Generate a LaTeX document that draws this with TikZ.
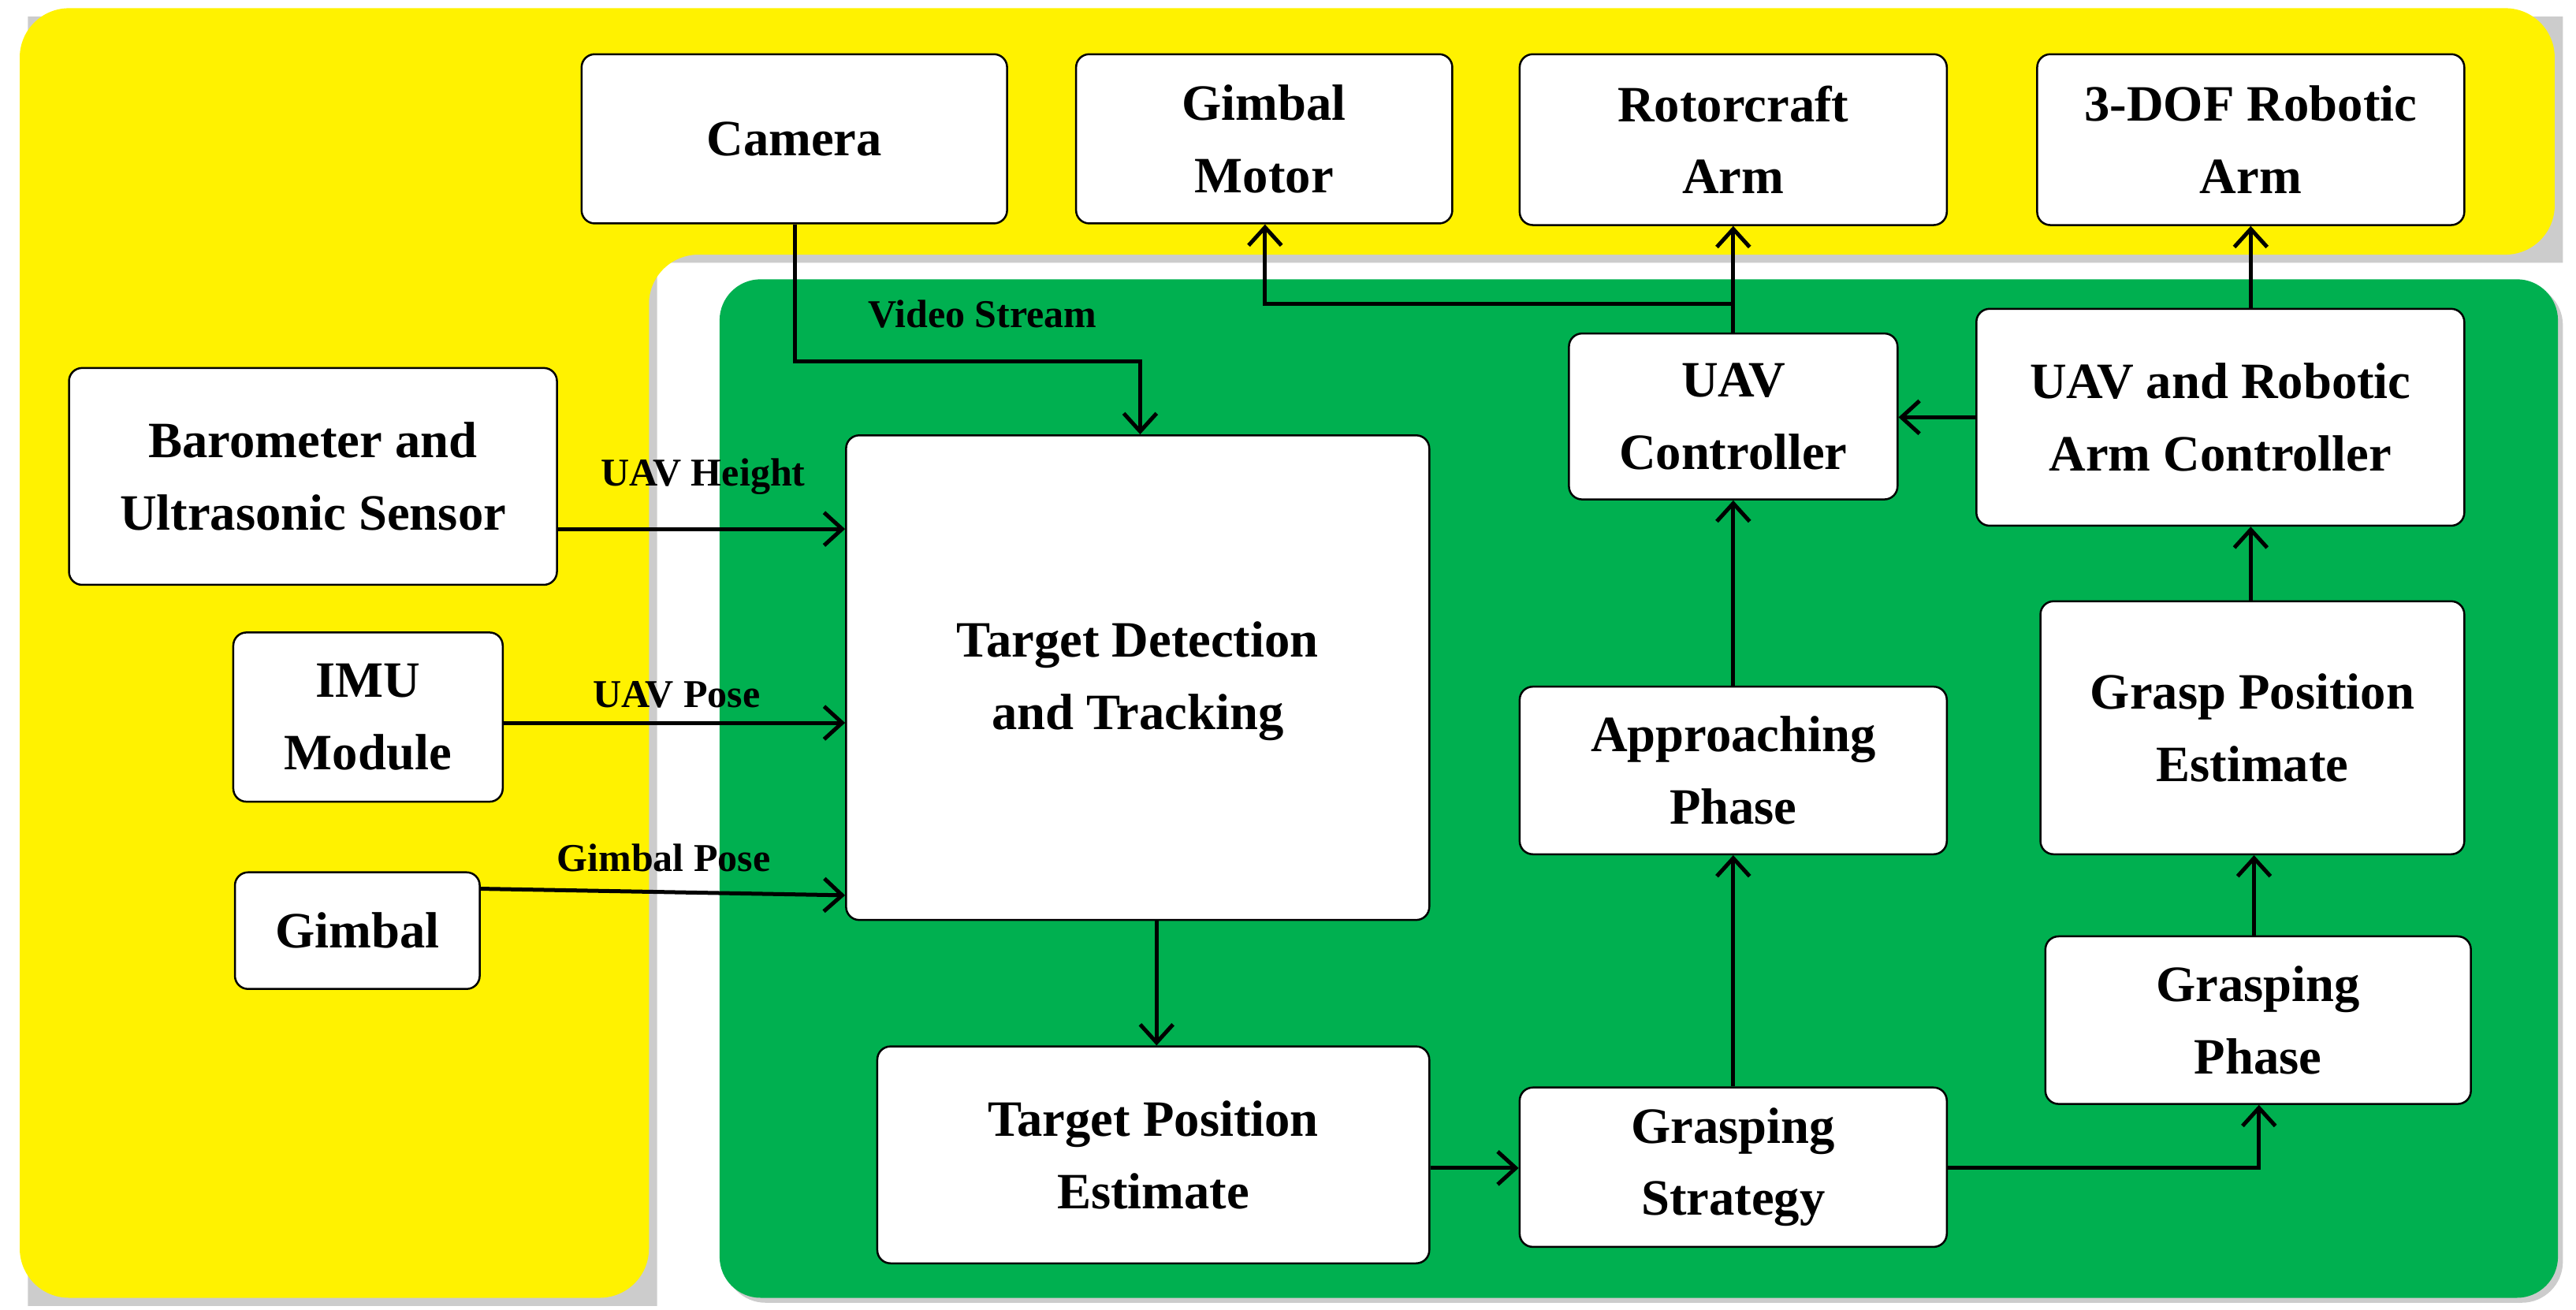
\documentclass[tikz,border=0pt]{standalone}
\usepackage{fontspec}
\setmainfont{Liberation Serif}
\usetikzlibrary{arrows.meta}
\begin{document}
\begin{tikzpicture}[x=1pt,y=-1pt,
 box/.style={draw=black,line width=1.2pt,fill=white,rounded corners=8pt,align=center,font=\fontsize{31}{39}\selectfont\bfseries,inner sep=0pt},
 arr/.style={line width=2.4pt,-{Straight Barb[length=11pt,width=20pt,line width=2.4pt]}},
 lin/.style={line width=2.4pt},
 lab/.style={font=\fontsize{24}{28}\selectfont\bfseries}]
\useasboundingbox (0,0) rectangle (1568,797);
\fill[gray!40] (17,10)--(1560,10)--(1560,160)--(400,160)--(400,795)--(17,795)--cycle;
\fill[yellow,rounded corners=30pt] (12,5)--(1555,5)--(1555,155)--(395,155)--(395,790)--(12,790)--cycle;
\fill[gray!40,rounded corners=25pt] (441,173) rectangle (1560,793);
\fill[fill={rgb,255:red,0;green,176;blue,80},rounded corners=25pt] (438,170) rectangle (1557,790);
\newcommand{\bx}[5]{\node[box,minimum width=#4-#2,minimum height=#5-#3] (#1) at ({(#2+#4)/2},{(#3+#5)/2}) {};}
\bx{cam}{354}{33}{613}{136}
\bx{gm}{655}{33}{884}{136}
\bx{ra}{925}{33}{1185}{137}
\bx{dof}{1240}{33}{1500}{137}
\bx{baro}{42}{224}{339}{356}
\bx{imu}{142}{385}{306}{488}
\bx{gim}{143}{531}{292}{602}
\bx{tdt}{515}{265}{870}{560}
\bx{tpe}{534}{637}{870}{769}
\bx{uc}{955}{203}{1155}{304}
\bx{urac}{1203}{188}{1500}{320}
\bx{ap}{925}{418}{1185}{520}
\bx{gpe}{1242}{366}{1500}{520}
\bx{gs}{925}{662}{1185}{759}
\bx{gp}{1245}{570}{1504}{672}
\tikzset{t/.style={font=\fontsize{31}{44}\selectfont\bfseries,align=center}}
\node[t] at (cam) {Camera};
\node[t] at (gm) {Gimbal\\Motor};
\node[t] at (ra) {Rotorcraft\\Arm};
\node[t] at (dof) {3-DOF Robotic\\Arm};
\node[t] at (baro) {Barometer and\\Ultrasonic Sensor};
\node[t] at (imu) {IMU\\Module};
\node[t] at (gim) {Gimbal};
\node[t] at ([yshift=-2]tdt) {Target Detection\\and Tracking};
\node[t] at (tpe) {Target Position\\Estimate};
\node[t] at (uc) {UAV\\Controller};
\node[t] at (urac) {UAV and Robotic\\Arm Controller};
\node[t] at (ap) {Approaching\\Phase};
\node[t] at (gpe) {Grasp Position\\Estimate};
\node[t] at (gs) {Grasping\\Strategy};
\node[t] at (gp) {Grasping\\Phase};
\coordinate (c1) at (484,220);
\coordinate (c2) at (694,220);
\draw[arr] (cam.south -| c1) -- (c1) -- (c2) -- (tdt.north -| c2);
\node[lab] at (598,191) {Video Stream};
\draw[arr] (baro.east |- 0,322) -- (tdt.west |- 0,322);
\node[lab] at (428,290) {UAV Height};
\draw[arr] (imu.east |- 0,440) -- (tdt.west |- 0,440);
\node[lab] at (412,423) {UAV Pose};
\draw[arr] (gim.east |- 0,541) -- (tdt.west |- 0,545);
\node[lab] at (404,522) {Gimbal Pose};
\draw[arr] (tdt.south -| 704,0) -- (tpe.north -| 704,0);
\draw[arr] (tpe.east |- 0,711) -- (gs.west |- 0,711);
\draw[arr] (gs.north) -- (ap.south);
\draw[arr] (ap.north) -- (uc.north |- uc.south);
\draw[arr] (uc.north) -- (ra.south);
\coordinate (c3) at (1055,185);
\coordinate (c4) at (770,185);
\draw[arr] (c3) -- (c4) -- (gm.south -| c4);
\coordinate (c5) at (1375,711);
\draw[arr] (gs.east |- c5) -- (c5) -- (gp.south -| c5);
\draw[arr] (gp.north -| 1372,0) -- (gpe.south -| 1372,0);
\draw[arr] (gpe.north -| 1370,0) -- (urac.south -| 1370,0);
\draw[arr] (urac.west |- 0,254) -- (uc.east |- 0,254);
\draw[arr] (urac.north -| 1370,0) -- (dof.south -| 1370,0);
\end{tikzpicture}
\end{document}
